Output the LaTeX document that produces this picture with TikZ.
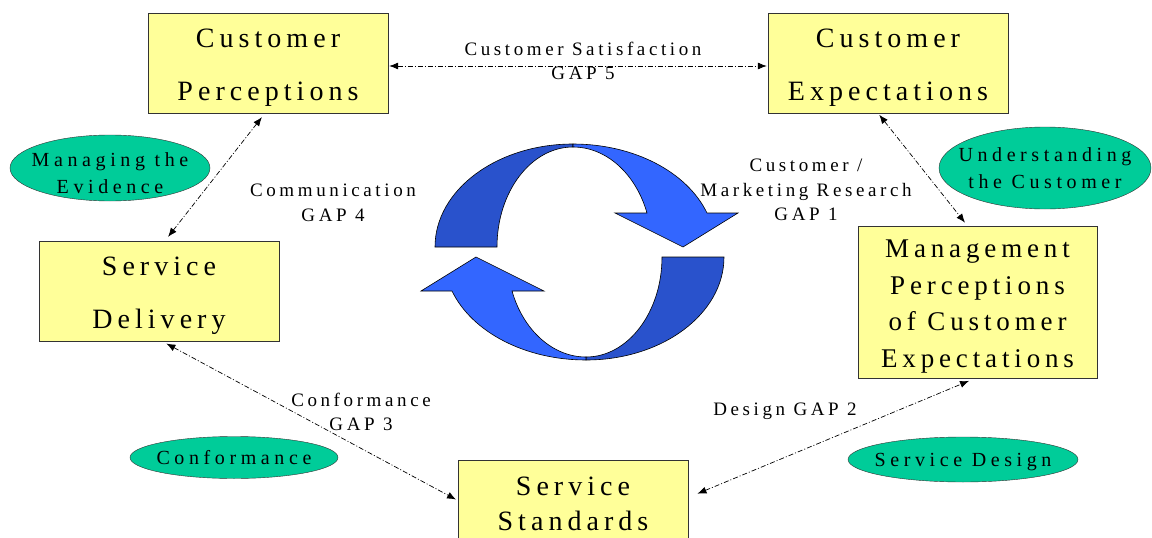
\documentclass[tikz,border=0pt]{standalone}
\usepackage{fontspec}
\setmainfont{Liberation Serif}
\newfontfamily\boxfont[LetterSpace=18]{Liberation Serif}
\newfontfamily\ovalfont[LetterSpace=23]{Liberation Serif}
\newfontfamily\gapfont[LetterSpace=19]{Liberation Serif}
\usetikzlibrary{shapes.geometric, arrows.meta, positioning, calc}
\definecolor{boxyellow}{RGB}{255,255,153}
\definecolor{ovalgreen}{RGB}{0,204,153}
\definecolor{lightblue}{RGB}{51,102,255}
\definecolor{darkblue}{RGB}{41,82,204}
\tikzset{
  gapbox/.style={draw=black!80, fill=boxyellow, minimum width=240pt, minimum height=100pt, inner sep=0pt, align=center, text depth=6pt, font=\boxfont\fontsize{28}{53}\selectfont},
  theme/.style={ellipse, draw=black!80, fill=ovalgreen, inner sep=0pt},
  themetext/.style={align=center, inner sep=0pt, font=\ovalfont\fontsize{20}{27}\selectfont},
  gaplabel/.style={align=center, inner sep=0pt, font=\gapfont\fontsize{19}{24.5}\selectfont},
  gaparrow/.style={{Latex[length=9pt,width=7pt]}-{Latex[length=9pt,width=7pt]}, dash pattern=on 5pt off 2pt on 1pt off 2pt, line width=0.7pt, shorten <=5pt, shorten >=5pt}
}
\begin{document}
\begin{tikzpicture}[x=1pt,y=-1pt]
\fill[white] (0,0) rectangle (1152,538);
\useasboundingbox (0,0) rectangle (1152,538);

\foreach \ang in {0,180} {
\begin{scope}[shift={(579.5,252)}, rotate=\ang, line width=0.6pt]
\filldraw[fill=darkblue] (-144.5,-5) .. controls (-144.5,-61.9) and (-82.7,-108) .. (-6.5,-108) -- (-6.5,-105) .. controls (-48.5,-105) and (-82.5,-60.2) .. (-82.5,-5) -- cycle;
\filldraw[fill=lightblue] (-6.5,-108) .. controls (53.9,-108) and (107.5,-80.4) .. (127.5,-39) -- (158.5,-39) -- (103.5,-5) -- (35.5,-39) -- (67.5,-39) .. controls (56.2,-78.5) and (26.6,-105) .. (-6.5,-105) -- cycle;
\end{scope}
}

\node[gapbox, text height=80pt] (cp) at (268,63) {Customer\\Perceptions};
\node[gapbox, text height=80pt] (ce) at (888,63) {Customer\\Expectations};
\node[gapbox, text height=80pt] (sd) at (159,291) {Service\\Delivery};
\node[gapbox, minimum width=239pt, minimum height=152pt, text height=136pt, font=\boxfont\fontsize{27}{36.5}\selectfont] (mp) at (977.5,302) {Management\\Perceptions\\of Customer\\Expectations};
\node[gapbox, minimum width=230pt, minimum height=91pt, text height=55pt, font=\boxfont\fontsize{28}{35}\selectfont] (ss) at (573,505.5) {Service\\Standards};

\node[theme, minimum width=200pt, minimum height=66pt] (me) at (110,168) {};
\node[themetext] (meT) at ([yshift=-5pt]me.center) {Managing the\\Evidence};
\node[theme, minimum width=212pt, minimum height=82pt] (uc) at (1045,168) {};
\node[themetext] (ucT) at (uc) {Understanding\\the Customer};
\node[theme, minimum width=208pt, minimum height=42pt] (cf) at (234,457.5) {};
\node[themetext] (cfT) at (cf) {Conformance};
\node[theme, minimum width=230pt, minimum height=45pt] (sdn) at (963,459.5) {};
\node[themetext] (sdnT) at ([yshift=-3pt]sdn.center) {Service Design};

\node[gaplabel] (g5) at (583,61) {Customer Satisfaction\\GAP 5};
\node[gaplabel] (g4) at (333,203) {Communication\\GAP 4};
\node[gaplabel] (g1) at (806,190) {Customer /\\Marketing Research\\GAP 1};
\node[gaplabel] (g3) at (361,412) {Conformance\\GAP 3};
\node[gaplabel] (g2) at (785,411) {Design GAP 2};

\draw[gaparrow, shorten <=1pt, shorten >=1pt] ([yshift=-3pt]cp.east) -- ([yshift=-3pt]ce.west);
\draw[gaparrow] ([xshift=-3pt]cp.south) -- ([xshift=6pt]sd.north);
\draw[gaparrow, shorten <=2pt, shorten >=4pt] ([xshift=-10pt]ce.south) -- ([xshift=-10pt]mp.north);
\draw[gaparrow, shorten >=2pt] ([xshift=3pt]sd.south) -- ([yshift=5pt]ss.west);
\draw[gaparrow, shorten <=10pt, shorten >=7pt] ([yshift=8pt]ss.east) -- ([xshift=-2pt]mp.south);
\end{tikzpicture}
\end{document}
